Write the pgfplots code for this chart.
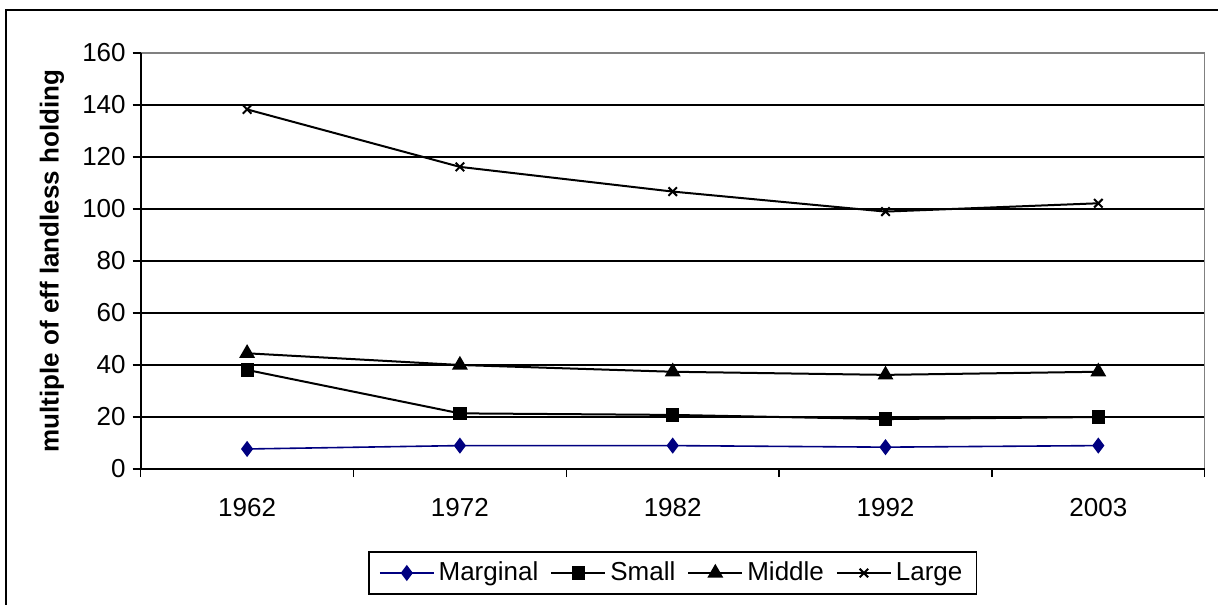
\documentclass[border=0pt]{standalone}
\usepackage{fontspec}
\setmainfont{Liberation Sans}
\usepackage{pgfplots}
\pgfplotsset{compat=1.18}
\definecolor{navy}{RGB}{0,0,128}
\definecolor{bordergray}{RGB}{128,128,128}
\begin{document}
\begin{tikzpicture}[font=\fontsize{13}{15}\selectfont]
\useasboundingbox (-70.35pt,-67.5pt) rectangle (538.65pt,234.5pt);
\begin{axis}[
  at={(0,0)}, anchor=south west, name=ax,
  scale only axis, width=532pt, height=208pt,
  xmin=0, xmax=5, ymin=0, ymax=160,
  xtick={0,...,5}, x tick label as interval,
  xticklabels={1962,1972,1982,1992,2003},
  xticklabel style={yshift=-7pt},
  ytick={0,20,...,140}, extra y ticks={160},
  extra y tick style={grid=none},
  ymajorgrids, grid style={black, line width=0.75pt},
  tick align=outside, major tick length=4pt,
  tick style={black, line width=0.75pt},
  xtick pos=bottom, ytick pos=left,
  axis line style={bordergray, line width=0.75pt},
  /pgf/number format/assume math mode=true,
  /pgf/number format/1000 sep={},
  ylabel={\bfseries multiple of eff landless holding},
  ylabel style={at={(axis description cs:-0.0834,0.5)}, anchor=center},
  legend image code/.code={%
    \draw[mark repeat=2,mark phase=2] plot coordinates {(0pt,0pt) (13.5pt,0pt) (27pt,0pt)};},
  legend style={at={(axis description cs:0.5,-0.25)}, anchor=center,
    legend columns=4, draw=black, line width=0.75pt,
    inner xsep=5pt, inner ysep=3pt,
    /tikz/every even column/.append style={column sep=4pt}},
  clip=false,
]
\addplot[navy, line width=0.8pt, mark=diamond*, mark size=3.4pt, mark options={fill=navy}]
  coordinates {(0.5,7.7) (1.5,9.0) (2.5,9.0) (3.5,8.4) (4.5,9.0)};
\addlegendentry{Marginal}
\addplot[black, line width=1pt, mark=square*, mark size=2.8pt, mark options={solid}]
  coordinates {(0.5,38.1) (1.5,21.4) (2.5,20.8) (3.5,19.2) (4.5,20.0)};
\addlegendentry{Small}
\addplot[black, line width=1pt, mark=triangle*, mark size=3.6pt]
  coordinates {(0.5,44.5) (1.5,40.0) (2.5,37.4) (3.5,36.2) (4.5,37.4)};
\addlegendentry{Middle}
\addplot[black, line width=1pt, mark=x, mark size=3pt, mark options={line width=1pt}]
  coordinates {(0.5,138.3) (1.5,116.2) (2.5,106.7) (3.5,99.0) (4.5,102.2)};
\addlegendentry{Large}
\end{axis}
\draw[black, line width=1pt] (ax.north west) -- (ax.south west) -- (ax.south east);
\draw[black, line width=1pt] (-67.5pt,-70pt) -- (-67.5pt,229.5pt) -- (540pt,229.5pt);
\end{tikzpicture}
\end{document}
